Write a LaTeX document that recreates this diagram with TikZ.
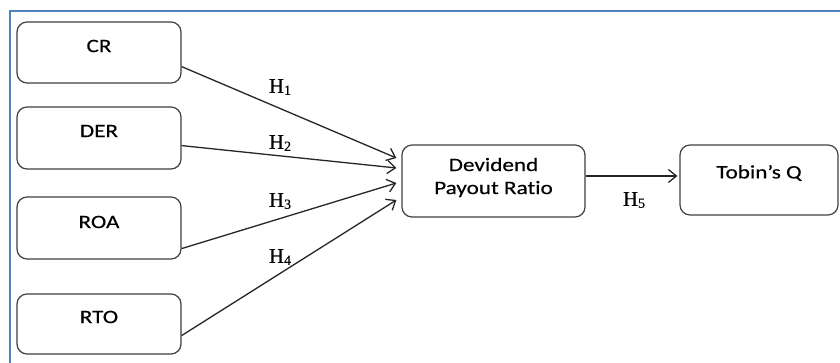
\documentclass[tikz,border=0pt]{standalone}
\usepackage{fontspec}
\setmainfont{Carlito}[FakeStretch=1.22,FakeBold=0.3,Ligatures={NoCommon}]
\newfontfamily\hfont{Liberation Serif}[FakeBold=0.3]
\usetikzlibrary{arrows.meta,calc}
\newcommand{\hyp}[1]{{\hfont\fontsize{21}{21}\selectfont H\raisebox{-2pt}{\fontsize{14}{14}\selectfont #1}}}
\tikzset{
  varbox/.style={draw=black!75, line width=1.2pt, rounded corners=10pt, inner sep=0pt},
  boxtext/.style={font=\fontsize{19}{23}\selectfont, text=black, inner sep=0pt, align=center},
  link/.style={draw=black!85, line width=1.3pt, -{Straight Barb[length=8pt,width=13pt,line width=1.3pt]}},
  hlabel/.style={inner sep=0pt}
}
\begin{document}
\begin{tikzpicture}[x=1pt,y=1pt]
\useasboundingbox (0,0) rectangle (840,363);
\clip (0,0) rectangle (840,363);
\fill[white] (0,0) rectangle (840,363);
% frame
\draw[line width=2pt, color={rgb,255:red,79;green,129;blue,189}] (9.5,-20) -- (9.5,352) -- (860,352);
% boxes
\node[varbox, minimum width=164pt, minimum height=61pt] (cr) at (99,310.5) {};
\node[varbox, minimum width=164pt, minimum height=62pt] (der) at (99,225) {};
\node[varbox, minimum width=164pt, minimum height=62pt] (roa) at (99,135) {};
\node[varbox, minimum width=164pt, minimum height=60pt] (rto) at (99,39) {};
\node[varbox, minimum width=183pt, minimum height=72pt] (dpr) at (493.5,182) {};
\node[varbox, minimum width=158pt, minimum height=70pt] (tq) at (759,183) {};
% texts
\node[boxtext] (crt) at (99,317) {CR};
\node[boxtext] (dert) at (99,232) {DER};
\node[boxtext] (roat) at (99,141) {ROA};
\node[boxtext] (rtot) at (99,46) {RTO};
\node[boxtext] (dprt) at (493.5,185.5) {Devidend\\Payout Ratio};
\node[boxtext] (tqt) at (759,190) {Tobin’s Q};
% arrow end points
\coordinate (e1) at ($(dpr.west)+(-5,23)$);
\coordinate (e2) at ($(dpr.west)+(-5,13)$);
\coordinate (e3) at ($(dpr.west)+(-5,-2)$);
\coordinate (e4) at ($(dpr.west)+(-5,-19)$);
\draw[link] ($(cr.south east)+(0,17)$) -- (e1);
\draw[link] ($(der.south east)+(0,24)$) -- (e2);
\draw[link] ($(roa.south east)+(0,11)$) -- (e3);
\draw[link] ($(rto.south east)+(0,19)$) -- (e4);
\draw[link] ($(dpr.east)+(0,5)$) -- ($(tq.west)+(-2,4)$);
% labels
\node[hlabel] (h1) at (280,276) {\hyp{1}};
\node[hlabel] (h2) at (280,220) {\hyp{2}};
\node[hlabel] (h3) at (280,162) {\hyp{3}};
\node[hlabel] (h4) at (280,106) {\hyp{4}};
\node[hlabel] (h5) at (634,163) {\hyp{5}};
\end{tikzpicture}
\end{document}
